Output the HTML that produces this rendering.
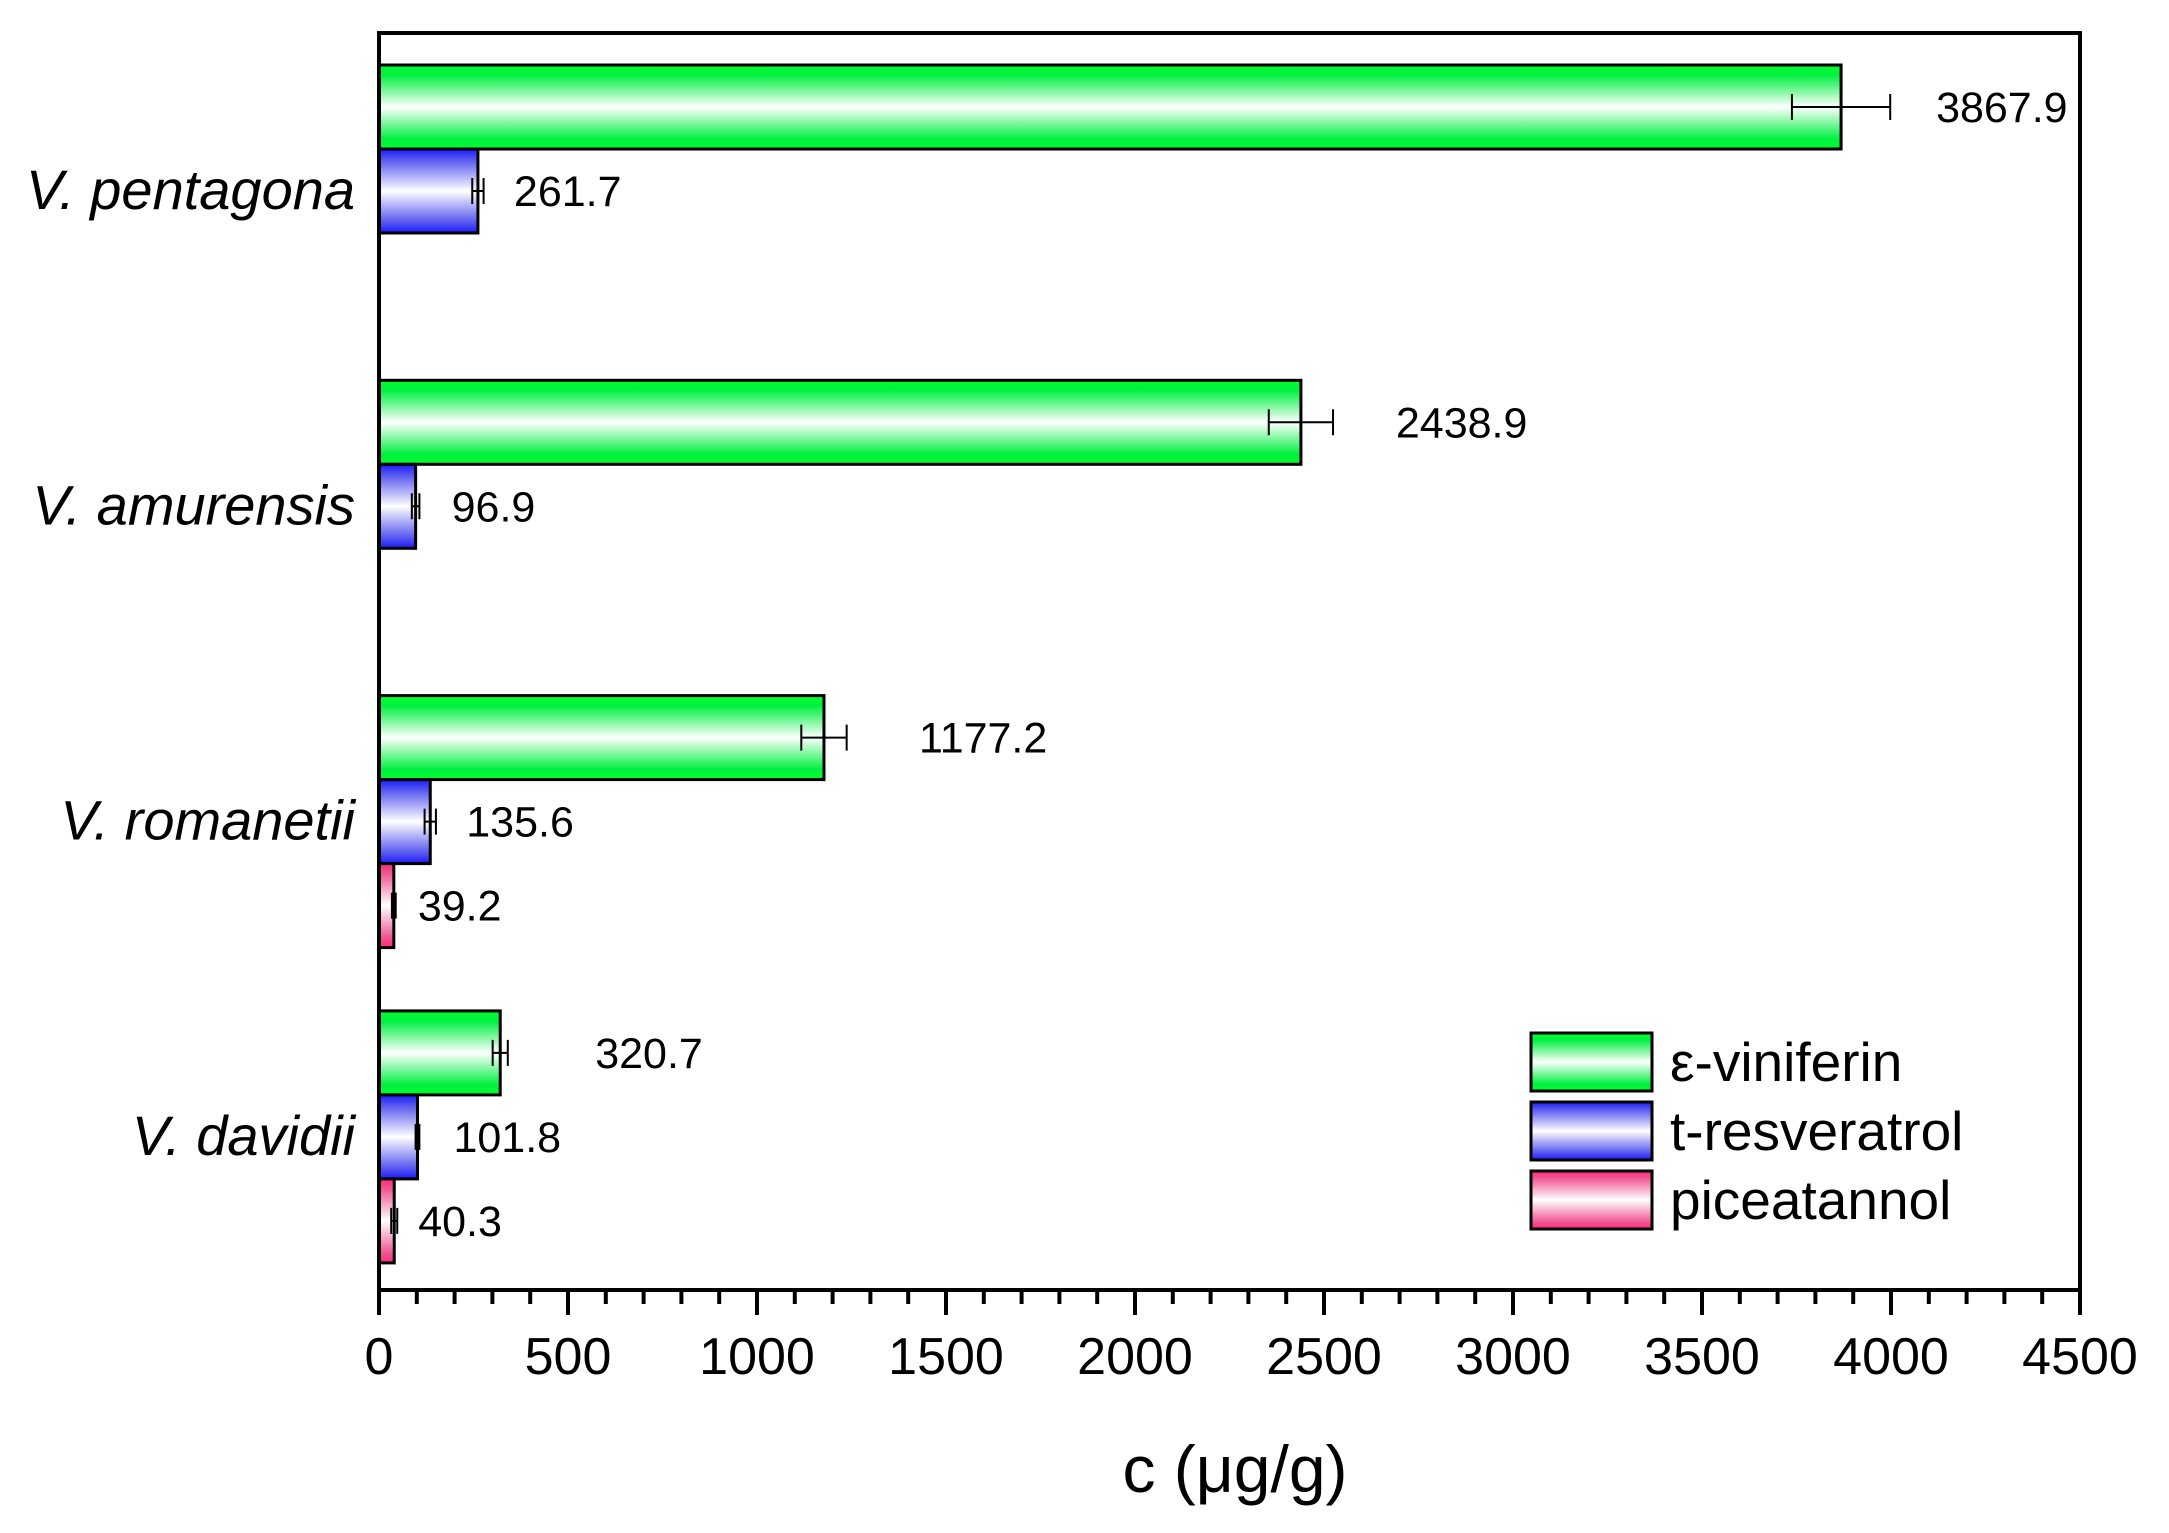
<!DOCTYPE html>
<html><head><meta charset="utf-8"><style>
html,body{margin:0;padding:0;background:#fff}
svg{display:block}
text{font-family:"Liberation Sans",Arial,sans-serif;fill:#000}
</style></head><body>
<svg id="chart" width="2169" height="1533" viewBox="0 0 2169 1533" xmlns="http://www.w3.org/2000/svg">
<defs>
<linearGradient id="gGreen" x1="0" y1="0" x2="0" y2="1"><stop offset="0" stop-color="#00ff2a"/><stop offset="0.12" stop-color="#00f040"/><stop offset="0.5" stop-color="#ffffff"/><stop offset="0.88" stop-color="#00f040"/><stop offset="1" stop-color="#00ff2a"/></linearGradient>
<linearGradient id="gBlue" x1="0" y1="0" x2="0" y2="1"><stop offset="0" stop-color="#1a1aff"/><stop offset="0.12" stop-color="#5555f0"/><stop offset="0.5" stop-color="#ffffff"/><stop offset="0.88" stop-color="#5555f0"/><stop offset="1" stop-color="#1a1aff"/></linearGradient>
<linearGradient id="gPink" x1="0" y1="0" x2="0" y2="1"><stop offset="0" stop-color="#ff2a7a"/><stop offset="0.12" stop-color="#f05595"/><stop offset="0.5" stop-color="#ffffff"/><stop offset="0.88" stop-color="#f05595"/><stop offset="1" stop-color="#ff2a7a"/></linearGradient>
</defs>
<g id="bars"></g>
<g id="axes"></g>
<g id="legend"></g>
<text x="1235" y="1492" font-size="66" text-anchor="middle">c (μg/g)</text>
</svg>
<script>
const categories = ["V. pentagona","V. amurensis","V. romanetii","V. davidii"];
const seriesNames = ["ε-viniferin","t-resveratrol","piceatannol"];
const viniferin = [3867.9, 2438.9, 1177.2, 320.7];
const resveratrol = [261.7, 96.9, 135.6, 101.8];
const piceatannol = [null, null, 39.2, 40.3];
const viniferinErr = [130, 85, 60, 20];
const resveratrolErr = [15, 10, 15, 5];
const piceatannolErr = [null, null, 5, 8];
const xTicks = [0,500,1000,1500,2000,2500,3000,3500,4000,4500];

const NS="http://www.w3.org/2000/svg";
const L=379,R=2080,T=33,B=1290,xMax=4500;
const x=v=>L+(v/xMax)*(R-L);
const groupTop=i=>65+i*315.3;
const barH=84;
const labelGap=[95,36,24];
function mk(tag,attrs,parent){const e=document.createElementNS(NS,tag);for(const k in attrs)e.setAttribute(k,attrs[k]);parent.appendChild(e);return e;}
const bars=document.getElementById('bars');
const series=[[viniferin,viniferinErr,'url(#gGreen)','viniferin'],[resveratrol,resveratrolErr,'url(#gBlue)','resveratrol'],[piceatannol,piceatannolErr,'url(#gPink)','piceatannol']];
categories.forEach((c,i)=>{
  series.forEach((s,j)=>{
    const v=s[0][i]; if(v==null) return;
    const y=groupTop(i)+j*barH, e=s[1][i];
    const r=mk('rect',{x:L,y:y,width:x(v)-L,height:barH,fill:s[2],stroke:'#000','stroke-width':3},bars);
    
    
    const cy=y+barH/2;
    const eb=mk('path',{d:`M${x(v-e)},${cy}H${x(v+e)}M${x(v-e)},${cy-13}V${cy+13}M${x(v+e)},${cy-13}V${cy+13}`,stroke:'#000','stroke-width':2,fill:'none'},bars);
    
    
    const t=mk('text',{x:x(v)+labelGap[j],y:cy+15,'font-size':43},bars);
    t.textContent=v.toFixed(1);
    
    
  });
  const ct=mk('text',{x:355,y:groupTop(i)+barH*1.5+18,'font-size':56,'font-style':'italic','text-anchor':'end'},bars);
  ct.textContent=c;
  
  
});
const axes=document.getElementById('axes');
const fr=mk('rect',{x:L,y:T,width:R-L,height:B-T,fill:'none',stroke:'#000','stroke-width':4},axes);


for(let v=0;v<=xMax;v+=100){
  const major=v%500===0;
  const tk=mk('line',{x1:x(v),x2:x(v),y1:B,y2:B+(major?25:14),stroke:'#000','stroke-width':4},axes);
  
  
}
xTicks.forEach(v=>{
  const t=mk('text',{x:x(v),y:1374,'font-size':52,'text-anchor':'middle'},axes);
  t.textContent=v;
  
  
});
const lg=document.getElementById('legend');


const lgFills=['url(#gGreen)','url(#gBlue)','url(#gPink)'];
seriesNames.forEach((n,j)=>{
  const y=1033+j*69;
  const sw=mk('rect',{x:1531,y:y,width:121,height:58,fill:lgFills[j],stroke:'#000','stroke-width':3},lg);
  
  
  const t=mk('text',{x:1670,y:y+48,'font-size':55},lg);
  t.textContent=n;
  
  
});
</script>
</body></html>
